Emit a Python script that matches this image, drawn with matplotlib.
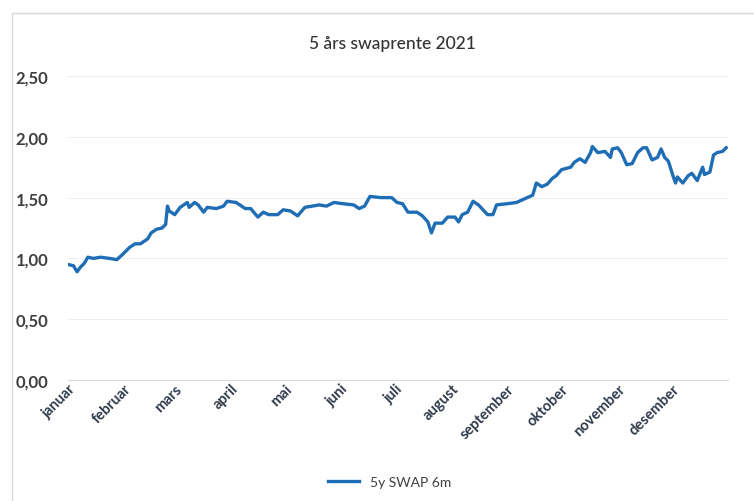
import matplotlib.pyplot as plt
import matplotlib.ticker as mticker
import pandas as pd
from matplotlib.patches import Rectangle

# dag i året (0 = 1. januar) og 5 års swaprente
dag = [0, 3, 5, 7, 9, 11, 14, 18, 23, 27, 30, 34, 37, 40, 44, 46, 49, 52, 54, 55,
       56, 59, 62, 66, 67, 70, 72, 75, 77, 82, 86, 88, 93, 96, 98, 101, 105, 108,
       111, 116, 119, 123, 127, 131, 135, 139, 143, 147, 152, 158, 161, 164, 167,
       173, 179, 182, 185, 188, 193, 196, 199, 201, 203, 207, 210, 214, 216, 218,
       221, 224, 227, 232, 235, 237, 243, 248, 254, 257, 259, 262, 265, 268, 270,
       273, 278, 280, 283, 286, 289, 290, 293, 297, 300, 301, 304, 306, 309, 312,
       315, 318, 320, 323, 326, 328, 330, 332, 335, 336, 337, 340, 343, 345, 348,
       351, 352, 355, 357, 359, 362, 364]
rente = [0.95, 0.94, 0.89, 0.93, 0.96, 1.01, 1.00, 1.01, 1.00, 0.99, 1.03, 1.09,
         1.12, 1.12, 1.16, 1.21, 1.24, 1.25, 1.28, 1.43, 1.39, 1.36, 1.42, 1.46,
         1.42, 1.46, 1.44, 1.38, 1.42, 1.41, 1.43, 1.47, 1.46, 1.43, 1.41, 1.41,
         1.34, 1.38, 1.36, 1.36, 1.40, 1.39, 1.35, 1.42, 1.43, 1.44, 1.43, 1.46,
         1.45, 1.44, 1.41, 1.43, 1.51, 1.50, 1.50, 1.46, 1.45, 1.38, 1.38, 1.35,
         1.30, 1.21, 1.29, 1.29, 1.34, 1.34, 1.30, 1.36, 1.38, 1.47, 1.44, 1.36,
         1.36, 1.44, 1.45, 1.46, 1.50, 1.52, 1.62, 1.59, 1.61, 1.66, 1.68, 1.73,
         1.75, 1.79, 1.82, 1.79, 1.87, 1.92, 1.87, 1.88, 1.83, 1.90, 1.91, 1.87,
         1.77, 1.78, 1.87, 1.91, 1.91, 1.81, 1.83, 1.90, 1.83, 1.80, 1.66, 1.62,
         1.67, 1.62, 1.68, 1.70, 1.64, 1.75, 1.69, 1.71, 1.85, 1.87, 1.88, 1.91]

maaneder = ["januar", "februar", "mars", "april", "mai", "juni", "juli",
            "august", "september", "oktober", "november", "desember"]

datoer = pd.Timestamp("2021-01-01") + pd.to_timedelta(dag, unit="D")

fig = plt.figure(figsize=(7.54, 5.02), dpi=100)
plt.rcParams['font.family'] = ['Lato', 'DejaVu Sans']

# ramme rundt diagramomraadet
fig.patches.append(Rectangle((0.016, -0.05), 1.2, 1.022, transform=fig.transFigure,
                             fill=False, edgecolor='#d9d9d9', linewidth=1.0))

ax = fig.add_axes([0.0902, 0.241, 0.8753, 0.6056])
ax.plot(datoer, rente, color='#1f6db5', linewidth=2.4, label='5y SWAP 6m')

ax.set_xlim(pd.Timestamp("2021-01-01"), pd.Timestamp("2022-01-01"))
ax.set_ylim(0, 2.5)
ax.set_yticks([0, 0.5, 1.0, 1.5, 2.0, 2.5])
ax.yaxis.set_major_formatter(mticker.FuncFormatter(lambda v, _: f"{v:.2f}".replace('.', ',')))

ax.set_xticks(pd.date_range("2021-01-01", periods=12, freq="MS"))
ax.set_xticklabels(maaneder, rotation=45, ha='right', rotation_mode='anchor')

for s in ['top', 'right', 'left']:
    ax.spines[s].set_visible(False)
ax.spines['bottom'].set_color('#d9d9d9')
ax.grid(axis='y', color='#eeeeee', linewidth=0.8)
ax.set_axisbelow(True)
ax.tick_params(axis='y', length=0, labelsize=12, labelcolor='#404040', pad=14)
ax.tick_params(axis='x', length=0, labelsize=10.5, labelcolor='#2f3a4a', pad=1)
for t in ax.get_yticklabels():
    t.set_fontweight('bold')
for t in ax.get_xticklabels():
    t.set_fontweight('bold')

fig.text(0.52, 0.912, "5 års swaprente 2021", ha='center', va='center',
         fontsize=12.5, color='#333333', fontweight='medium')

fig.legend(loc='center', bbox_to_anchor=(0.517, 0.038), frameon=False,
           fontsize=10, handlelength=2.2, labelcolor='#404040')

fig.savefig("out.png", dpi=100, facecolor='white')
